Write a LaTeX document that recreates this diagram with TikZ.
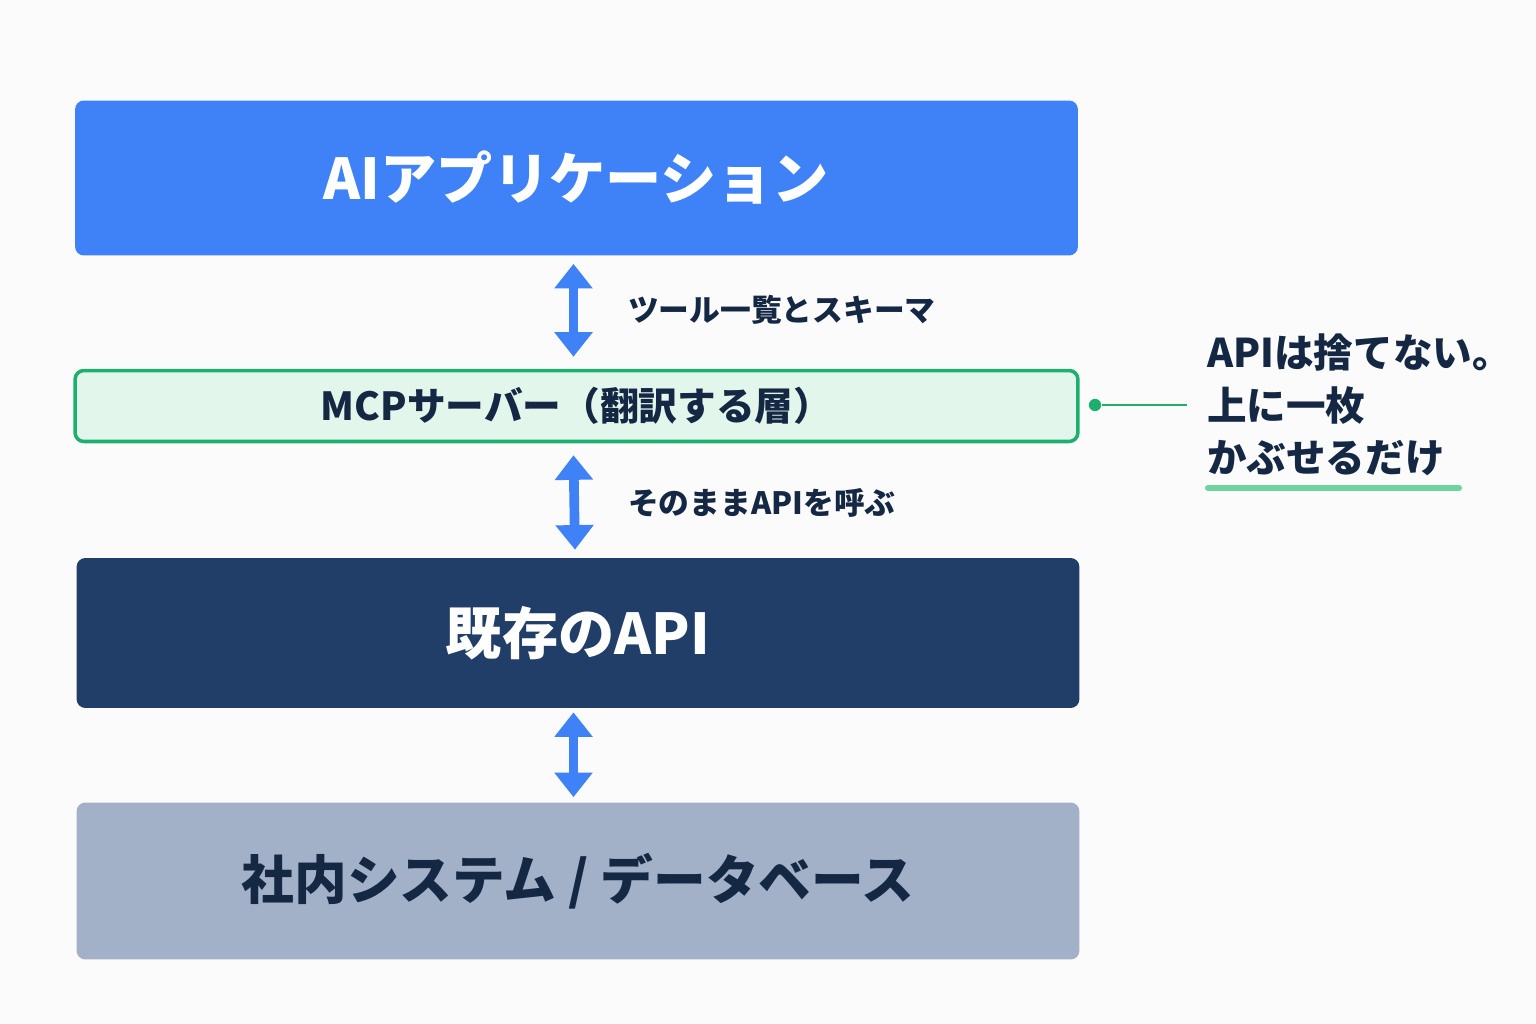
\documentclass[tikz,border=0pt]{standalone}
\usepackage{fontspec}
\setmainfont{Noto Sans CJK JP}
\usetikzlibrary{arrows.meta}
\usetikzlibrary{positioning}
\definecolor{appblue}{HTML}{3F82F7}
\definecolor{mcpfill}{HTML}{E3F6EC}
\definecolor{mcpline}{HTML}{1DAF6E}
\definecolor{apinavy}{HTML}{213E68}
\definecolor{dbgray}{HTML}{A2B0C8}
\definecolor{ink}{HTML}{142844}
\definecolor{hilite}{HTML}{6FD3A0}
\tikzstyle{layer} = [rectangle, rounded corners=5pt, minimum width=20.06cm,
    font=\bfseries\fontsize{32}{40}\selectfont, inner sep=0pt]
\tikzstyle{link} = [{Triangle[length=14pt,width=21pt]}-{Triangle[length=14pt,width=21pt]},
    line width=5.5pt, appblue]
\tikzstyle{note} = [anchor=west, text=ink, font=\bfseries\fontsize{17.5}{20}\selectfont]

\begin{document}
\begin{tikzpicture}[x=0.02cm, y=-0.02cm]
    \useasboundingbox[fill=white!97!gray] (0,0) rectangle (1536,1024);

    \node [layer, fill=appblue, text=white, minimum height=3.1cm] (app) at (576.5,178) {AIアプリケーション};
    \node [layer, fill=mcpfill, draw=mcpline, line width=2pt, text=ink, minimum height=1.42cm,
        font=\bfseries\fontsize{22}{26}\selectfont] (mcp) at (576.5,406) {MCPサーバー（翻訳する層）};
    \node [layer, fill=apinavy, text=white, minimum height=3.0cm] (api) at (578,633) {既存のAPI};
    \node [layer, fill=dbgray, text=ink, minimum height=3.14cm,
        font=\bfseries\fontsize{30}{36}\selectfont] (db) at (578,881) {社内システム / データベース};

    % double arrows between the layers
    \draw [link] ([xshift=-0.06cm, yshift=-0.16cm]app.south) -- ([xshift=-0.06cm, yshift=0.24cm]mcp.north);
    \draw [link] ([xshift=-0.06cm, yshift=-0.24cm]mcp.south) -- ([xshift=-0.06cm, yshift=0.16cm]api.north);
    \draw [link] ([xshift=-0.09cm, yshift=-0.08cm]api.south) -- ([xshift=-0.09cm, yshift=0.1cm]db.north);

    \node [note] (schema) at (622,310) {ツール一覧とスキーマ};
    \node [note] (call) at (622,503) {そのままAPIを呼ぶ};

    % side remark
    \node [circle, fill=mcpline, inner sep=0pt, minimum size=7pt] (dot) at (1095,405) {};
    \coordinate (tip) at (1187,405);
    \draw [mcpline, line width=1.5pt] (dot) -- (tip);
    \node [anchor=west, text=ink, align=left, inner sep=0pt,
        font=\bfseries\fontsize{22.5}{30}\selectfont] (remark) at (1207,405)
        {APIは捨てない。\\上に一枚\\かぶせるだけ};
    \coordinate (ul1) at (1208,488);
    \coordinate (ul2) at (1459,488);
    \draw [hilite, line width=3.5pt, line cap=round] (ul1) -- (ul2);
\end{tikzpicture}
\end{document}
